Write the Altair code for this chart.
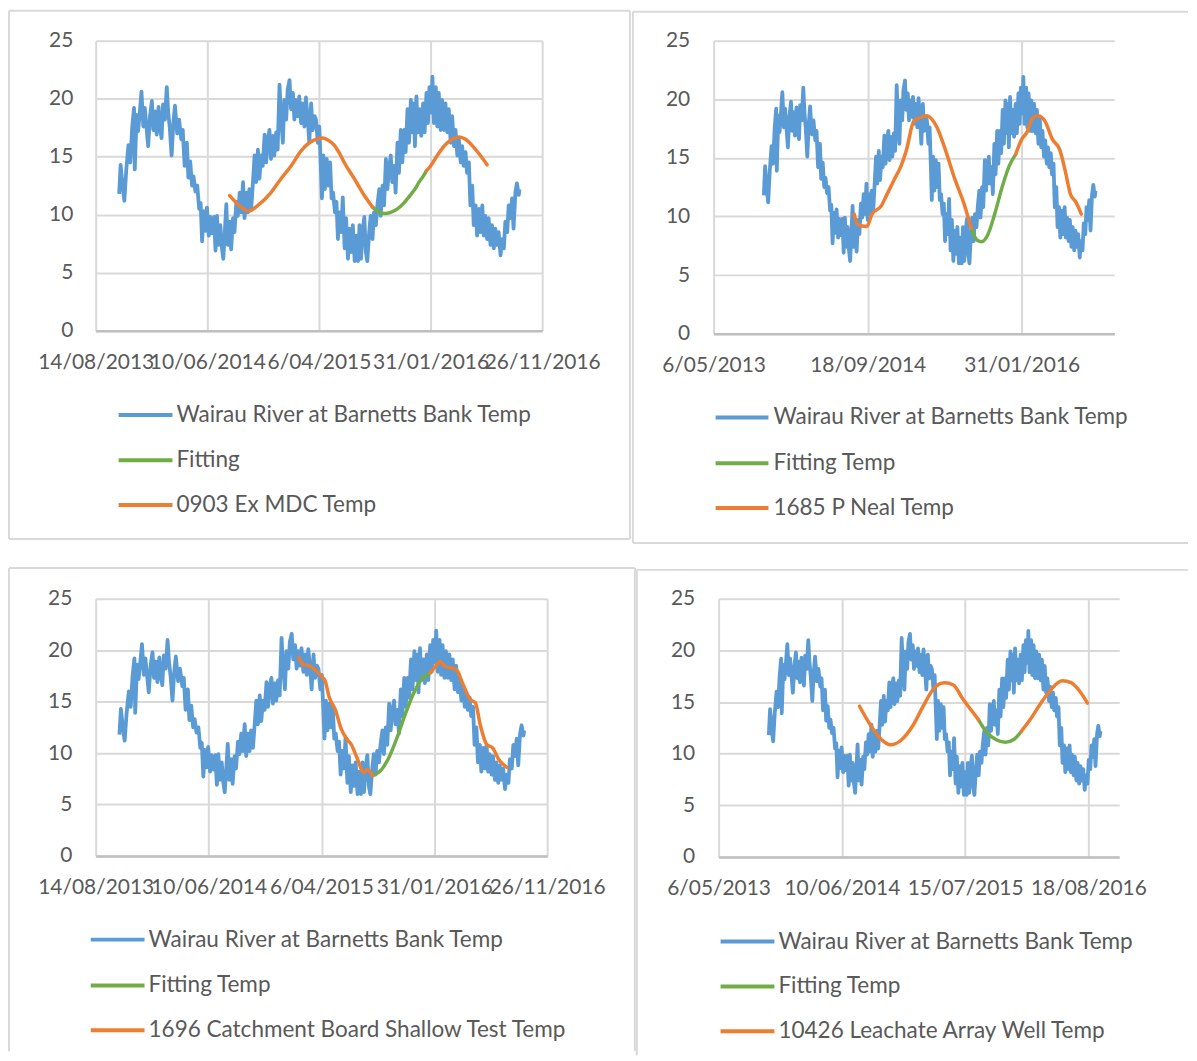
import altair as alt
import pandas as pd

FONT = "Lato"
TEXT_COLOR = "#595959"
GRID_COLOR = "#D9D9D9"
AXIS_COLOR = "#BFBFBF"
BORDER_COLOR = "#D9D9D9"
BLUE = "#5B9BD5"
GREEN = "#70AD47"
ORANGE = "#ED7D31"
SERIES_COLORS = [BLUE, GREEN, ORANGE]

# Excel date serial of 14/08/2013; day offsets below are counted from it
BASE_SERIAL = 41500

# Wairau River at Barnetts Bank Temp (same series in all four panels)
RIVER_DAY = [
    63, 67, 72, 77, 82, 88, 93, 98, 103, 105,
    110, 114, 119, 123, 128, 132, 138, 141, 146, 151,
    155, 160, 164, 169, 173, 177, 181, 186, 191, 195,
    199, 204, 209, 213, 219, 224, 230, 234, 239, 245,
    249, 254, 259, 263, 268, 273, 278, 282, 286, 290,
    295, 299, 304, 308, 313, 318, 322,
    326, 330, 335, 339, 343, 347, 351, 355, 360, 364,
    369, 373, 378, 382, 387, 391, 396, 400, 405, 409,
    413, 418, 422, 427, 431, 436, 440, 445, 449, 454,
    458, 463, 467, 471, 476, 480, 485, 489, 494, 498,
    503, 507, 512, 516, 521, 525, 530, 534, 538, 543,
    547, 552, 556, 561, 565, 570, 574, 579, 583, 588,
    592, 597, 601, 605, 608, 612, 616, 621, 625,
    630, 634, 638, 643, 647, 651, 655, 660, 664, 669,
    673, 678, 682, 687, 691, 696, 700, 705, 709, 713,
    718, 722, 726, 730, 735, 739, 744, 748, 753, 757,
    762, 766, 771, 775, 780, 784, 789, 793, 797, 802,
    806, 811, 815, 820, 824, 829, 833, 838, 842, 847,
    851, 855,
    858, 862, 866, 871, 875, 880, 884, 889, 893, 897,
    902, 905, 909, 914, 918, 922, 927, 931, 936, 940,
    945, 949, 954, 958, 963, 967, 972, 976, 981, 985,
    989, 994, 998, 1003, 1007, 1012, 1016, 1021, 1025, 1030,
    1034, 1039, 1043, 1047, 1052, 1056, 1061, 1065, 1070, 1074,
    1079, 1083, 1088, 1092, 1097, 1101, 1106, 1110, 1114, 1119,
    1123, 1128, 1132, 1137, 1139,
]
RIVER_TEMP = [
    11.8, 14.3, 12.5, 11.2, 13.8, 16.0, 14.5, 17.5, 19.2, 13.9,
    18.6, 17.2, 19.0, 20.6, 17.6, 19.2, 17.0, 15.9, 18.5, 19.8,
    17.3, 18.9, 16.9, 19.3, 17.5, 16.6, 19.5, 18.2, 21.0, 18.8,
    17.5, 15.1, 18.0, 19.4, 17.0, 18.2, 16.5, 17.3, 14.2, 16.2,
    13.2, 14.6, 12.5, 13.3, 12.0, 12.5, 10.5, 11.0, 7.7, 10.3,
    8.6, 10.6, 8.2, 9.8, 8.4, 9.8, 6.9,
    9.9, 7.4, 9.1, 7.2, 6.2, 8.5, 10.9, 7.4, 9.4, 7.0,
    9.7, 8.5, 11.1, 9.9, 11.9, 10.2, 12.8, 9.7, 11.9, 10.2,
    12.2, 10.5, 12.5, 15.1, 12.8, 15.6, 13.1, 15.1, 14.2, 16.9,
    14.5, 16.5, 17.3, 14.8, 16.8, 15.1, 17.1, 15.6, 21.2, 18.5,
    16.2, 19.9, 18.2, 20.8, 21.6, 19.1, 20.5, 18.2, 19.9, 18.5,
    20.2, 17.9, 19.6, 17.6, 20.1, 18.2, 16.2, 19.6, 17.3, 18.5,
    18.2, 16.2, 17.6, 14.2, 11.4, 15.1, 12.2, 14.8, 12.5,
    14.5, 11.4, 11.9, 10.2, 11.1, 7.9, 10.2, 8.5, 11.5, 7.1,
    9.7, 6.2, 8.8, 6.8, 9.1, 6.0, 8.2, 6.0, 9.1, 6.2,
    8.8, 9.8, 6.8, 6.0, 8.5, 9.9, 7.9, 10.2, 9.1, 10.8,
    12.2, 9.9, 12.5, 10.8, 14.8, 12.2, 14.2, 15.1, 12.8, 14.2,
    11.9, 16.2, 13.6, 17.3, 14.5, 17.3, 15.4, 19.1, 16.2, 19.9,
    17.1, 19.6,
    15.9, 20.2, 17.1, 19.1, 16.8, 19.6, 17.1, 20.5, 17.9, 21.0,
    18.8, 21.9, 17.9, 21.0, 17.6, 20.5, 17.3, 19.9, 17.3, 19.6,
    17.1, 19.1, 16.2, 18.5, 15.9, 17.3, 15.1, 16.5, 14.5, 15.9,
    14.2, 15.4, 13.6, 14.5, 10.8, 12.5, 9.1, 10.8, 8.2, 10.5,
    8.5, 10.8, 8.2, 9.9, 7.9, 9.7, 7.4, 9.1, 7.1, 8.8,
    7.4, 8.5, 6.5, 7.9, 7.1, 9.4, 8.5, 10.8, 9.7, 11.4,
    8.8, 11.9, 12.7, 11.7, 12.2,
]

Y_TICKS = [0, 5, 10, 15, 20, 25]

# ---------------- Panel 1 ----------------
P1_X_TICKS = [41500, 41800, 42100, 42400, 42700]
P1_X_LABELS = ["14/08/2013", "10/06/2014", "6/04/2015", "31/01/2016", "26/11/2016"]
P1_FIT_DAY = [744, 760, 775, 793, 811, 828, 846, 860, 869, 880, 889]
P1_FIT_TEMP = [10.65, 10.25, 10.1, 10.2, 10.5, 11.0, 11.7, 12.3, 12.8, 13.3, 13.8]
P1_WELL_DAY = [360, 391, 411, 436, 471, 498, 525, 552, 574, 592, 610, 626, 641, 655, 668, 695, 722, 744,
               889, 900, 918, 936, 958, 976, 994, 1016, 1034, 1052]
P1_WELL_TEMP = [11.65, 10.65, 10.3, 10.8, 11.9, 13.1, 14.2, 15.5, 16.2, 16.5, 16.6, 16.4, 16.0, 15.3, 14.5, 13.1, 11.65, 10.65,
                13.8, 14.2, 15.1, 15.9, 16.5, 16.7, 16.5, 15.8, 15.1, 14.3]
P1_WELL_SEG = [1] * 18 + [2] * 10
P1_LEGEND = ["Wairau River at Barnetts Bank Temp", "Fitting", "0903 Ex MDC Temp"]

# ---------------- Panel 2 ----------------
P2_X_TICKS = [41400, 41900, 42400]
P2_X_LABELS = ["6/05/2013", "18/09/2014", "31/01/2016"]
P2_FIT_DAY = [736, 754, 768, 789, 812, 836, 859, 880]
P2_FIT_TEMP = [9.0, 8.0, 7.85, 8.4, 10.2, 12.5, 14.3, 15.3]
P2_WELL_DAY = [356, 368, 397, 414, 444, 461, 485, 508, 526, 549, 567, 590, 625, 648, 684, 713, 736,
               880, 900, 917, 935, 953, 976, 999, 1023, 1040, 1058, 1076, 1093]
P2_WELL_TEMP = [10.2, 9.3, 9.15, 10.2, 10.9, 11.8, 13.1, 14.3, 15.7, 18.1, 18.4, 18.6, 17.6, 16.0, 13.1, 11.05, 9.0,
                15.3, 16.6, 17.2, 18.4, 18.6, 18.1, 16.6, 15.7, 14.0, 11.9, 11.2, 10.2]
P2_WELL_SEG = [1] * 17 + [2] * 12
P2_LEGEND = ["Wairau River at Barnetts Bank Temp", "Fitting Temp", "1685 P Neal Temp"]

# ---------------- Panel 3 ----------------
P3_X_TICKS = [41500, 41800, 42100, 42400, 42700]
P3_X_LABELS = ["14/08/2013", "10/06/2014", "6/04/2015", "31/01/2016", "26/11/2016"]
P3_FIT_DAY = [736, 760, 781, 803, 824, 846, 867, 889]
P3_FIT_TEMP = [7.8, 8.4, 9.7, 11.7, 13.9, 15.9, 17.2, 17.8]
P3_WELL_DAY = [540, 551, 567, 583, 599, 610, 620, 637, 653, 669, 679, 696, 712, 722, 736,
               889, 905, 916, 926, 942, 959, 975, 996, 1009, 1023, 1039, 1055, 1071, 1093]
P3_WELL_TEMP = [19.3, 18.6, 18.5, 18.1, 17.5, 17.0, 15.5, 14.2, 12.3, 11.3, 10.85, 9.4, 8.1, 8.4, 7.8,
                17.8, 18.5, 18.9, 18.5, 18.3, 18.1, 16.8, 15.2, 14.9, 12.6, 10.85, 10.5, 9.4, 8.6]
P3_WELL_SEG = [1] * 15 + [2] * 14
P3_LEGEND = ["Wairau River at Barnetts Bank Temp", "Fitting Temp", "1696 Catchment Board Shallow Test Temp"]

# ---------------- Panel 4 ----------------
P4_X_TICKS = [41400, 41800, 42200, 42600]
P4_X_LABELS = ["6/05/2013", "10/06/2014", "15/07/2015", "18/08/2016"]
P4_FIT_DAY = [743, 772, 801, 830, 859, 882]
P4_FIT_TEMP = [13.3, 12.0, 11.35, 11.1, 11.4, 12.15]
P4_WELL_DAY = [357, 389, 424, 459, 494, 528, 563, 598, 633, 662, 691, 720, 743,
               882, 911, 946, 981, 1015, 1044, 1073, 1097]
P4_WELL_TEMP = [14.6, 12.95, 11.5, 10.86, 11.35, 12.6, 14.55, 16.3, 16.87, 16.65, 15.36, 14.2, 13.3,
                12.15, 13.3, 14.9, 16.3, 17.06, 16.87, 16.0, 14.9]
P4_WELL_SEG = [1] * 13 + [2] * 8
P4_LEGEND = ["Wairau River at Barnetts Bank Temp", "Fitting Temp", "10426 Leachate Array Well Temp"]

AXIS_FONT_SIZE = 21
LEGEND_FONT_SIZE = 22.6

river_df = pd.DataFrame({"serial": [BASE_SERIAL + d for d in RIVER_DAY], "temp": RIVER_TEMP})
one_row = pd.DataFrame({"k": [0]})


def build_panel(ticks, labels, xmin, xmax, fit_day, fit_temp, well_day, well_temp, well_seg, legend, geo):
    label_expr = " : ".join(f"datum.value == {t} ? '{l}'" for t, l in zip(ticks, labels)) + " : ''"
    x_axis = alt.Axis(values=ticks, labelExpr=label_expr, labelOverlap=False, labelFlush=False,
                      grid=True, gridColor=GRID_COLOR, gridWidth=2,
                      domain=True, domainColor=AXIS_COLOR, domainWidth=2.5,
                      ticks=False, tickSize=0, labelPadding=geo["xpad"],
                      labelFont=FONT, labelFontSize=AXIS_FONT_SIZE, labelColor=TEXT_COLOR, title=None)
    y_axis = alt.Axis(values=Y_TICKS, grid=True, gridColor=GRID_COLOR, gridWidth=2,
                      domain=False, ticks=False, tickSize=0, labelPadding=geo["ypad"],
                      labelFont=FONT, labelFontSize=AXIS_FONT_SIZE, labelColor=TEXT_COLOR, title=None)
    X = alt.X("serial:Q", scale=alt.Scale(domain=[xmin, xmax], nice=False, zero=False), axis=x_axis)
    Y = alt.Y("temp:Q", scale=alt.Scale(domain=[0, 25], nice=False), axis=y_axis)

    fit_df = pd.DataFrame({"serial": [BASE_SERIAL + d for d in fit_day], "temp": fit_temp})
    well_df = pd.DataFrame({"serial": [BASE_SERIAL + d for d in well_day], "temp": well_temp, "seg": well_seg})

    bx1, by1, bx2, by2 = geo["box"]
    layers = [
        alt.Chart(one_row).mark_rect(fillOpacity=0, strokeOpacity=0).encode(
            x=alt.value(bx1), x2=alt.value(bx2), y=alt.value(by1), y2=alt.value(by2))
    ]
    for side in geo["sides"]:
        if side == "top":
            enc = dict(x=alt.value(bx1), x2=alt.value(bx2), y=alt.value(by1))
        elif side == "bottom":
            enc = dict(x=alt.value(bx1), x2=alt.value(bx2), y=alt.value(by2))
        elif side == "left":
            enc = dict(x=alt.value(bx1), y=alt.value(by1), y2=alt.value(by2))
        else:
            enc = dict(x=alt.value(bx2), y=alt.value(by1), y2=alt.value(by2))
        layers.append(alt.Chart(one_row).mark_rule(color=BORDER_COLOR, strokeWidth=2).encode(**enc))

    layers.append(alt.Chart(river_df).mark_line(color=BLUE, strokeWidth=3.8, strokeJoin="round").encode(x=X, y=Y))
    layers.append(alt.Chart(fit_df).mark_line(color=GREEN, strokeWidth=3.5, interpolate="monotone",
                                              strokeCap="round").encode(x=X, y=Y))
    layers.append(alt.Chart(well_df).mark_line(color=ORANGE, strokeWidth=3.5, interpolate="monotone",
                                               strokeCap="round").encode(x=X, y=Y, detail="seg:N"))

    sx1, sx2 = geo["sym"]
    for name, color, row in zip(legend, SERIES_COLORS, geo["rows"]):
        layers.append(alt.Chart(one_row).mark_rule(color=color, strokeWidth=4).encode(
            x=alt.value(sx1), x2=alt.value(sx2), y=alt.value(row)))
        layers.append(alt.Chart(pd.DataFrame({"label": [name]})).mark_text(
            align="left", baseline="middle", font=FONT, fontSize=LEGEND_FONT_SIZE, color=TEXT_COLOR
        ).encode(x=alt.value(geo["text_x"]), y=alt.value(row), text="label:N"))

    return alt.layer(*layers).properties(width=geo["w"], height=geo["h"])


G1 = dict(w=448, h=291, box=(-87, -30, 536, 500), sides=["top", "left", "right", "bottom"],
          sym=(23, 77), text_x=81, rows=[375.5, 421, 466], xpad=21, ypad=23)
G2 = dict(w=402, h=294, box=(-81, -29, 476, 504), sides=["top", "left", "bottom"],
          sym=(2, 55), text_x=60, rows=[378, 424, 469], xpad=21, ypad=24)
G3 = dict(w=453, h=258, box=(-87, -31, 541, 454), sides=["top", "left", "right"],
          sym=(-5, 49), text_x=53, rows=[342, 388, 433], xpad=21, ypad=24)
G4 = dict(w=402, h=259, box=(-82, -29, 471, 458), sides=["top", "left"],
          sym=(2, 56), text_x=60, rows=[344, 389, 434], xpad=21, ypad=24)

p1 = build_panel(P1_X_TICKS, P1_X_LABELS, 41500, 42700, P1_FIT_DAY, P1_FIT_TEMP,
                 P1_WELL_DAY, P1_WELL_TEMP, P1_WELL_SEG, P1_LEGEND, G1)
p2 = build_panel(P2_X_TICKS, P2_X_LABELS, 41400, 42700, P2_FIT_DAY, P2_FIT_TEMP,
                 P2_WELL_DAY, P2_WELL_TEMP, P2_WELL_SEG, P2_LEGEND, G2)
p3 = build_panel(P3_X_TICKS, P3_X_LABELS, 41500, 42700, P3_FIT_DAY, P3_FIT_TEMP,
                 P3_WELL_DAY, P3_WELL_TEMP, P3_WELL_SEG, P3_LEGEND, G3)
p4 = build_panel(P4_X_TICKS, P4_X_LABELS, 41400, 42700, P4_FIT_DAY, P4_FIT_TEMP,
                 P4_WELL_DAY, P4_WELL_TEMP, P4_WELL_SEG, P4_LEGEND, G4)

row1 = alt.hconcat(p1, p2, spacing=1)
row2 = alt.hconcat(p3, p4, spacing=0)
chart = (
    alt.vconcat(row1, row2, spacing=23)
    .properties(padding=0, background="white")
    .configure_view(strokeWidth=0)
)

chart.save("out.html", embed_options={"renderer": "svg", "actions": False})
